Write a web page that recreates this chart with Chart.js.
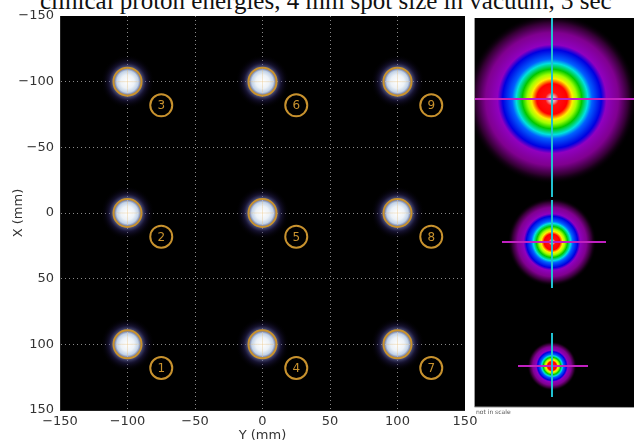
<!DOCTYPE html>
<html><head><meta charset="utf-8">
<script src="https://cdn.jsdelivr.net/npm/chart.js@4/dist/chart.umd.min.js"></script>
<style>
html,body{margin:0;padding:0;background:#fff;width:634px;height:443px;overflow:hidden}
#wrap{position:relative;width:634px;height:443px}
#title{position:absolute;left:40px;top:-12px;font-family:"Liberation Serif","DejaVu Serif",serif;font-size:25px;color:#111;white-space:nowrap;line-height:25px}
canvas{display:block;position:absolute;left:0;top:0}
</style></head>
<body><div id="wrap"><div id="title">clinical proton energies, 4 mm spot size in vacuum, 3 sec</div><canvas id="c" width="634" height="443"></canvas></div>
<script>
// ---- data ----
const axisTicks = [-150, -100, -50, 0, 50, 100, 150];
const spotY = [-100, -100, -100, 0, 0, 0, 100, 100, 100];   // horizontal axis "Y (mm)"
const spotX = [100, 0, -100, 100, 0, -100, 100, 0, -100];   // vertical axis "X (mm)"
const spotNumbers = ["1", "2", "3", "4", "5", "6", "7", "8", "9"];
const labelOffsetY = 25, labelOffsetX = 18;                 // mm offset of the numbered markers
const profileNames = ["low energy", "mid energy", "high energy"];
const profileScale = [1.0, 0.52, 0.29];

const ORANGE = '#c8922e';

const bgPlugin = {
  id: 'bg',
  beforeDraw(chart) {
    const {ctx, chartArea: a} = chart;
    ctx.save();
    ctx.fillStyle = '#000';
    ctx.fillRect(a.left, a.top, a.right - a.left, a.bottom - a.top);
    ctx.restore();
  }
};

const glowPlugin = {
  id: 'glow',
  beforeDatasetsDraw(chart) {
    const {ctx, scales: {x, y}, chartArea: a} = chart;
    ctx.save();
    ctx.beginPath(); ctx.rect(a.left, a.top, a.right - a.left, a.bottom - a.top); ctx.clip();
    spotY.forEach((sy, i) => {
      const px = x.getPixelForValue(sy), py = y.getPixelForValue(spotX[i]);
      const R = 27;
      const g = ctx.createRadialGradient(px, py, 0, px, py, R);
      g.addColorStop(0, 'rgba(255,255,255,1)');
      g.addColorStop(0.25, 'rgba(245,250,255,0.97)');
      g.addColorStop(0.4, 'rgba(210,228,250,0.92)');
      g.addColorStop(0.52, 'rgba(140,150,215,0.65)');
      g.addColorStop(0.7, 'rgba(60,50,130,0.35)');
      g.addColorStop(0.85, 'rgba(30,20,70,0.15)');
      g.addColorStop(1, 'rgba(0,0,0,0)');
      ctx.fillStyle = g;
      ctx.beginPath(); ctx.arc(px, py, R, 0, Math.PI * 2); ctx.fill();
      ctx.strokeStyle = 'rgba(230,190,120,0.35)';
      ctx.lineWidth = 1;
      ctx.beginPath(); ctx.moveTo(px - 12, py); ctx.lineTo(px + 12, py);
      ctx.moveTo(px, py - 12); ctx.lineTo(px, py + 12); ctx.stroke();
    });
    ctx.restore();
  },
  afterDatasetsDraw(chart) {
    const {ctx} = chart;
    const meta = chart.getDatasetMeta(1);
    ctx.save();
    ctx.fillStyle = ORANGE;
    ctx.font = '12px "DejaVu Sans"';
    ctx.textAlign = 'center';
    ctx.textBaseline = 'middle';
    meta.data.forEach((pt, i) => {
      ctx.fillText(spotNumbers[i], pt.x, pt.y + 1);
    });
    ctx.restore();
  }
};

const panelPlugin = {
  id: 'panel',
  afterDraw(chart) {
    const {ctx} = chart;
    const L = 474, T = 18, R = 640, B = 407;
    ctx.save();
    ctx.fillStyle = '#000';
    ctx.fillRect(L, T, R - L, B - T);
    ctx.strokeStyle = '#999';
    ctx.lineWidth = 1;
    ctx.beginPath(); ctx.moveTo(L + 0.5, T); ctx.lineTo(L + 0.5, B); ctx.lineTo(R, B + 0.5); ctx.stroke();
    ctx.beginPath(); ctx.rect(L + 1, T, R - L, B - T); ctx.clip();
    const centers = [[552, 99], [552, 242], [552, 366]];
    const cross = [
      {v: [T, 197], h: [L, 634]},
      {v: [200, 288], h: [502, 606]},
      {v: [333, 397], h: [518, 588]}
    ];
    profileScale.forEach((s, i) => {
      const [cx, cy] = centers[i];
      const R0 = 85 * s;
      const g = ctx.createRadialGradient(cx, cy, 0, cx, cy, R0);
      g.addColorStop(0, '#f4d8dc');
      g.addColorStop(0.04, '#e8a0a8');
      g.addColorStop(0.08, '#ff1010');
      g.addColorStop(0.18, '#ff0000');
      g.addColorStop(0.24, '#ffee00');
      g.addColorStop(0.29, '#a0ff00');
      g.addColorStop(0.35, '#00c800');
      g.addColorStop(0.42, '#00e0e0');
      g.addColorStop(0.47, '#0060ff');
      g.addColorStop(0.58, '#0000e0');
      g.addColorStop(0.64, '#9000c0');
      g.addColorStop(0.78, '#800090');
      g.addColorStop(0.9, '#300030');
      g.addColorStop(1, 'rgba(0,0,0,0)');
      ctx.fillStyle = g;
      ctx.beginPath(); ctx.arc(cx, cy, R0, 0, Math.PI * 2); ctx.fill();
      ctx.lineWidth = 2;
      ctx.strokeStyle = '#c020c0';
      ctx.beginPath(); ctx.moveTo(cross[i].h[0], cy); ctx.lineTo(cross[i].h[1], cy); ctx.stroke();
      ctx.strokeStyle = '#20c0d0';
      ctx.beginPath(); ctx.moveTo(cx, cross[i].v[0]); ctx.lineTo(cx, cross[i].v[1]); ctx.stroke();
    });
    ctx.restore();
    ctx.save();
    ctx.fillStyle = '#555';
    ctx.font = '6px "DejaVu Sans"';
    ctx.textBaseline = 'top';
    ctx.fillText('not in scale', 476, 409);
    ctx.restore();
  }
};

const tickFont = {family: 'DejaVu Sans', size: 13};
const gridLW = c => (c.tick && (c.tick.value === -150 || c.tick.value === 150)) ? 0 : 1;

new Chart(document.getElementById('c'), {
  type: 'scatter',
  data: {
    datasets: [
      {
        label: 'spots',
        data: spotY.map((v, i) => ({x: v, y: spotX[i]})),
        pointRadius: 14, pointHoverRadius: 14,
        borderColor: ORANGE, borderWidth: 2, backgroundColor: 'rgba(0,0,0,0)'
      },
      {
        label: 'numbers',
        data: spotY.map((v, i) => ({x: v + labelOffsetY, y: spotX[i] + labelOffsetX})),
        pointRadius: 11, pointHoverRadius: 11,
        borderColor: ORANGE, borderWidth: 2, backgroundColor: 'rgba(0,0,0,0)'
      }
    ]
  },
  options: {
    responsive: false, animation: false,
    events: [],
    layout: {padding: {top: 15, right: 169, left: 0, bottom: 0}},
    plugins: {legend: {display: false}, tooltip: {enabled: false}},
    scales: {
      x: {
        type: 'linear', min: -150, max: 150,
        afterBuildTicks: s => { s.ticks = axisTicks.map(v => ({value: v})); },
        afterFit: s => { s.height = 33; },
        ticks: {font: tickFont, color: '#333', padding: 4, maxRotation: 0, callback: v => String(v).replace('-', '\u2212')},
        grid: {color: '#8a8a8a', drawTicks: false, lineWidth: gridLW},
        border: {display: true, color: '#222', dash: [1, 3]},
        title: {display: true, text: 'Y (mm)', font: tickFont, color: '#333', padding: 0}
      },
      y: {
        type: 'linear', min: -150, max: 150, reverse: true,
        afterBuildTicks: s => { s.ticks = axisTicks.map(v => ({value: v})); },
        afterFit: s => { s.width = 60; },
        ticks: {font: tickFont, color: '#333', padding: 6, callback: v => String(v).replace('-', '\u2212')},
        grid: {color: '#8a8a8a', drawTicks: false, lineWidth: gridLW},
        border: {display: true, color: '#222', dash: [1, 3]},
        title: {display: true, text: 'X (mm)', font: tickFont, color: '#333', padding: {top: 11, bottom: 0}}
      }
    }
  },
  plugins: [bgPlugin, glowPlugin, panelPlugin]
});
</script>
</body></html>
